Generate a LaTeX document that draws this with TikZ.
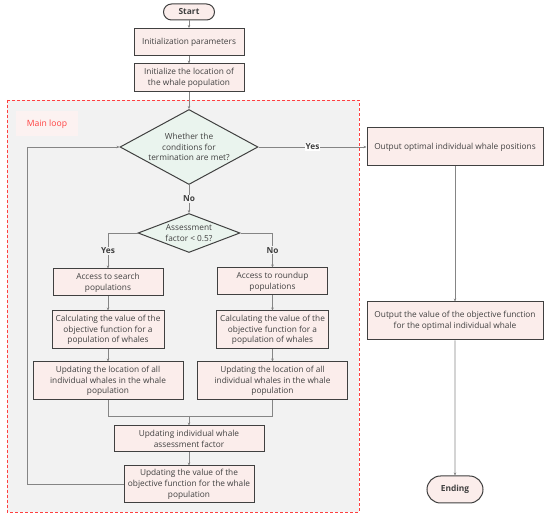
\documentclass[tikz,border=0pt]{standalone}
\usepackage{fontspec}
\setmainfont{Open Sans}
\usetikzlibrary{shapes.geometric,shapes.misc,arrows.meta}
\definecolor{boxfill}{HTML}{FBEDEB}
\definecolor{askfill}{HTML}{EAF4EE}
\definecolor{edgegray}{HTML}{404040}
\definecolor{linegray}{HTML}{858585}
\definecolor{loopbg}{HTML}{F2F2F2}
\definecolor{loopred}{HTML}{FF4040}
\begin{document}
\begin{tikzpicture}[x=1pt,y=-1pt,
  every node/.style={font=\fontsize{8.3}{10.7}\selectfont, text=black!75, align=center},
  proc/.style={draw=edgegray, line width=1pt, fill=boxfill, inner sep=0pt},
  term/.style={proc, shape=rounded rectangle, font=\fontsize{8.4}{9}\selectfont\bfseries},
  ask/.style={draw=edgegray, line width=1pt, fill=askfill, shape=diamond, inner sep=0pt},
  link/.style={draw=linegray, line width=0.9pt, -{Stealth[length=3pt,width=2.6pt]}},
  line/.style={draw=linegray, line width=0.9pt},
  tag/.style={fill=loopbg, inner sep=1pt, font=\fontsize{8.3}{9}\selectfont\bfseries}]
\useasboundingbox (0,0) rectangle (550,521);
\draw[loopred, dash pattern=on 3pt off 2pt, fill=loopbg, line width=0.7pt] (7,100) rectangle (359,512);
\node[fill=boxfill!70, minimum width=62, minimum height=25, text=loopred, font=\fontsize{8.6}{9}\selectfont] (LoopTag) at (47,124) {Main loop};

\node[term, minimum width=51, minimum height=16] (Start) at (189,12) {Start};
\node[proc, minimum width=110, minimum height=27] (Init) at (189,42) {Initialization parameters};
\node[proc, minimum width=110, minimum height=28] (Loc) at (189,78) {Initialize the location of\\the whale population};
\node[ask, minimum width=138, minimum height=75] (Cond) at (189,147) {};
\node (CondText) at (Cond) {Whether the\\conditions for\\termination are met?};
\node[ask, minimum width=102, minimum height=39] (Assess) at (189,233) {};
\node (AssessText) at (Assess) {Assessment\\factor < 0.5?};

\node[proc, minimum width=110, minimum height=27] (L1) at (108,282.5) {Access to search\\populations};
\node[proc, minimum width=112, minimum height=38] (L2) at (108,330) {Calculating the value of the\\objective function for a\\population of whales};
\node[proc, minimum width=150, minimum height=38] (L3) at (108,381) {Updating the location of all\\individual whales in the whale\\population};
\node[proc, minimum width=110, minimum height=27] (R1) at (272.5,281.5) {Access to roundup\\populations};
\node[proc, minimum width=112, minimum height=38] (R2) at (272.5,330) {Calculating the value of the\\objective function for a\\population of whales};
\node[proc, minimum width=150, minimum height=38] (R3) at (272.5,381) {Updating the location of all\\individual whales in the whale\\population};
\node[proc, minimum width=150, minimum height=26] (Upd) at (189,439) {Updating individual whale\\assessment factor};
\node[proc, minimum width=130, minimum height=37] (Val) at (189,484.5) {Updating the value of the\\objective function for the whale\\population};

\node[proc, minimum width=176, minimum height=38] (Out) at (455,147) {Output optimal individual whale positions};
\node[proc, minimum width=176, minimum height=38] (OutVal) at (455,321) {Output the value of the objective function\\for the optimal individual whale};
\node[term, minimum width=56, minimum height=27] (End) at (455,489.5) {Ending};

\coordinate (Merge) at (189,416);
\coordinate (Back) at (27,484.5);
\draw[link] (Start) -- (Init);
\draw[link] (Init) -- (Loc);
\draw[link] (Loc) -- (Cond);
\draw[link] (Cond) -- node[tag] (NoA) {No} (Assess);
\draw[link] (Assess.west) -| node[tag, pos=0.75] (YesB) {Yes} (L1);
\draw[link] (Assess.east) -| node[tag, pos=0.75] (NoB) {No} (R1);
\draw[link] (L1) -- (L2);
\draw[link] (L2) -- (L3);
\draw[link] (R1) -- (R2);
\draw[link] (R2) -- (R3);
\draw[line] (L3) |- (Merge);
\draw[line] (R3) |- (Merge);
\draw[link] (Merge) -- (Upd);
\draw[link] (Upd) -- (Val);
\draw[link] (Val.west) -- (Back) |- (Cond.west);
\draw[link] (Cond.east) -- node[tag, fill=white, pos=0.5] (YesA) {Yes} (Out);
\draw[link] (Out) -- (OutVal);
\draw[link] (OutVal) -- (End);
\end{tikzpicture}
\end{document}
